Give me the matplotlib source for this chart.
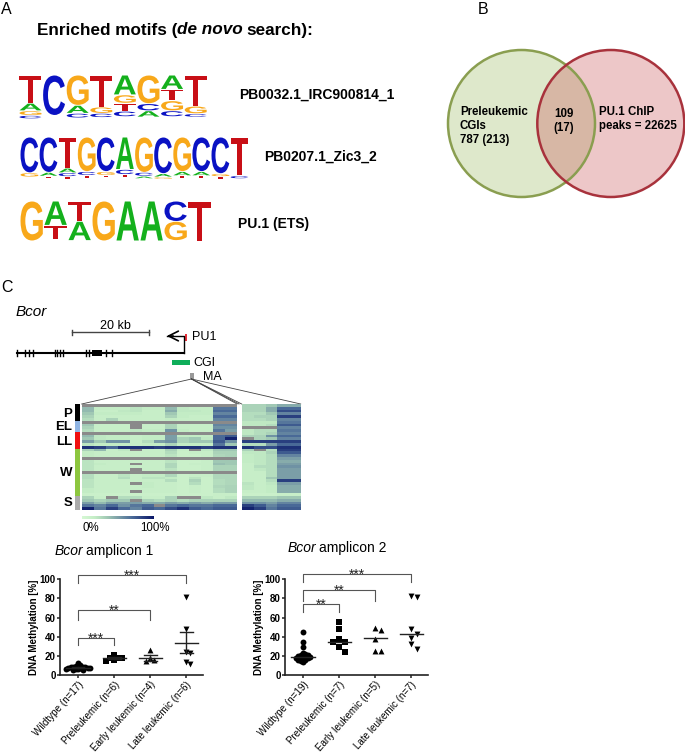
"""Redraw the Bcor figure: motif logos, Venn diagram, locus track, heatmap, dot plots."""

import matplotlib

matplotlib.use("Agg")

import matplotlib.pyplot as plt
import numpy as np
from matplotlib.font_manager import FontProperties
from matplotlib.patches import Circle, PathPatch, Rectangle
from matplotlib.textpath import TextPath
from matplotlib.transforms import Affine2D

plt.rcParams["font.family"] = ["Liberation Sans", "DejaVu Sans"]

WIDTH, HEIGHT = 685, 752
NA = np.nan

# Motif logos: each column is (letter, share of stack height), top to bottom.
MOTIF_IRC = [
    [("T", .65), ("A", .16), ("G", .09), ("C", .06)],
    [("C", .94)],
    [("G", .70), ("A", .17), ("C", .09)],
    [("T", .74), ("G", .13), ("C", .08)],
    [("A", .45), ("G", .18), ("T", .17), ("C", .11)],
    [("G", .66), ("C", .15), ("A", .13)],
    [("A", .32), ("T", .25), ("G", .22), ("C", .12)],
    [("T", .72), ("G", .16), ("C", .06)],
]
MOTIF_ZIC = [
    [("C", .83), ("G", .08)],
    [("C", .82), ("A", .07), ("T", .04)],
    [("T", .72), ("A", .09), ("C", .07), ("T", .04)],
    [("G", .80), ("C", .07), ("T", .05)],
    [("C", .80), ("G", .07), ("T", .04)],
    [("A", .75), ("C", .10), ("T", .05)],
    [("G", .82), ("C", .07), ("A", .04)],
    [("C", .85), ("A", .06), ("G", .03)],
    [("G", .80), ("A", .08), ("T", .04)],
    [("C", .80), ("A", .08), ("T", .04)],
    [("C", .85), ("G", .05), ("T", .04)],
    [("T", .90), ("C", .05)],
]
MOTIF_PU1 = [
    [("G", 1.0)],
    [("A", .60), ("T", .35)],
    [("T", .50), ("A", .47)],
    [("G", 1.0)],
    [("A", 1.0)],
    [("A", 1.0)],
    [("C", .50), ("G", .47)],
    [("T", 1.0)],
]
BASE_COLORS = {"A": "#14b01c", "C": "#0a12c3", "G": "#f8a81a", "T": "#c80f16"}

# Locus track, positions of exons along the gene.
EXON_TICKS = [17, 25, 29, 33, 55, 57, 60, 63, 86, 89, 106, 112]
EXON_BLOCK = [92.5, 102.5]

# Heatmap, % methylation per sample: 13 CpGs of amplicon 1, then 5 of amplicon 2.
HEAT_P = [
    [NA, NA, NA, NA, NA, NA, NA, NA, NA, NA, NA, NA, NA, 30, 30, 35, 45, 45],
    [40, 18, 18, 18, 22, 18, 18, 40, 20, 18, 18, 65, 65, 30, 30, 45, 70, 70],
    [40, 15, 15, 20, 22, 15, 15, 45, 20, 20, 18, 70, 70, 30, 30, 45, 80, 80],
    [35, 18, 18, 18, 18, 15, 15, 35, 18, 18, 18, 60, 60, 25, 25, 35, 60, 60],
    [30, 15, 15, 15, 15, 15, 15, 30, 18, 15, 15, 70, 70, 25, 30, 30, 85, 85],
    [25, 15, 30, 15, 15, 15, 15, 18, 15, 15, 15, 60, 60, 25, 25, 30, 60, 60],
]
HEAT_EL = [
    [NA, NA, NA, NA, NA, NA, NA, NA, NA, NA, NA, NA, NA, 20, 20, 20, 65, 65],
    [35, 15, 15, 15, NA, 15, 15, 30, 15, 15, 15, 60, 60, 20, 20, 25, 75, 75],
    [30, 15, 15, 15, NA, 15, 15, 30, 15, 15, 15, 55, 55, NA, NA, NA, 60, 60],
    [25, 15, 15, 15, 20, 18, 18, 55, 18, 15, 15, 65, 50, 20, 25, 25, 65, 65],
]
HEAT_LL = [
    [NA, NA, NA, NA, NA, NA, NA, NA, NA, NA, NA, NA, NA, 20, 25, 30, 60, 60],
    [40, 20, 18, 18, 15, 18, 18, 50, 18, 18, 18, 70, 75, 30, 30, 55, 70, 70],
    [35, 20, 18, 18, 15, 18, 18, 50, 30, 35, 20, 70, 95, NA, 30, 35, 60, 60],
    [50, 35, 55, 55, 15, 25, 50, 55, 30, 35, 35, 75, 55, 85, 85, 85, 85, 85],
    [22, 18, 18, 18, 15, 18, 18, 30, 18, 18, 18, 65, 35, 25, 25, 50, 70, 70],
    [90, 85, 70, 90, 90, 90, 85, 90, 90, 90, 85, 90, 90, 90, 80, 80, 90, 90],
]
HEAT_W = [
    [30, 40, 15, 20, NA, 15, 15, 30, 15, NA, 20, 35, 35, 30, NA, 25, 85, 85],
    [18, 15, 15, 15, 15, 15, 15, 25, 12, 15, 15, 30, 30, 20, 20, 30, 75, 75],
    [18, 15, 15, 15, 15, 15, 15, 22, 12, 12, 15, 28, 30, 18, 20, 25, 60, 60],
    [NA, NA, NA, NA, NA, NA, NA, NA, NA, NA, NA, NA, NA, 18, 20, 25, 50, 50],
    [22, 15, 15, 15, 15, 15, 15, 22, 12, 12, 15, 35, 35, 18, 20, 25, 45, 45],
    [22, 18, 15, 15, NA, 15, 15, 28, 12, 15, 15, 38, 35, 15, 20, 25, 50, 50],
    [22, 15, 15, 15, 15, 15, 15, 28, 12, 12, 15, 30, 30, 15, 25, 25, 55, 55],
    [22, 15, 15, 15, NA, 15, 15, 22, 12, 12, 15, 30, 30, 15, 20, 25, 50, 50],
    [NA, NA, NA, NA, NA, NA, NA, NA, NA, NA, NA, NA, NA, 15, 15, 25, 50, 50],
    [25, 15, 15, 22, 15, 18, 18, 28, 12, 15, 15, 28, 28, 15, 15, 25, 50, 50],
    [25, 15, 15, 25, 15, 22, 22, 18, 12, 22, 12, 28, 28, 15, 15, 35, 50, 50],
    [22, 15, 15, 15, 15, 15, 15, 25, 12, 30, 12, 25, 28, 15, 15, 25, 85, 85],
    [22, 15, 15, 15, NA, 18, 15, 15, 12, 25, 12, 25, 28, 22, 15, 20, 50, 50],
    [22, 15, 15, 15, 15, 18, 15, 15, 12, 15, 12, 28, 30, 20, 15, 18, 45, 45],
    [18, 15, 15, 15, 15, 15, 15, 15, 12, 15, 12, 25, 30, 20, 15, 18, 45, 45],
    [18, 15, 15, 15, NA, 15, 15, 15, 12, 15, 12, 25, 30, 15, 15, 18, 45, 45],
    [12, 12, 12, 12, 12, 12, 12, 12, 12, 12, 12, 15, 15, 12, 12, 12, 15, 15],
]
HEAT_S = [
    [30, 15, NA, 25, 25, 15, 15, 30, NA, NA, 20, 15, 20, 30, 30, 30, 35, 35],
    [35, 30, 35, 35, NA, 30, 25, 30, 25, 30, 30, 30, 30, 40, 40, 40, 45, 45],
    [50, 40, 50, 50, 50, 45, 45, 50, 45, 50, 45, 50, 50, 55, 55, 50, 60, 60],
    [65, 60, 70, 55, 65, 70, NA, 65, 70, 65, 65, 70, 70, 85, 75, 60, 70, 70],
    [95, 65, 85, 70, 60, 75, 70, 80, 90, 75, 70, 75, 75, 95, 85, 65, 75, 75],
]
HEAT_GROUPS = ["P", "EL", "LL", "W", "S"]
GROUP_COLORS = ["black", "#8fb4e3", "#f01010", "#8dc63f", "#aaaaaa"]
GROUP_LABEL_Y = [414, 427, 442, 473, 503]

# Dot plots.
GROUP_NAMES = ["Wildtype", "Preleukemic", "Early leukemic", "Late leukemic"]
GROUP_MARKERS = ["o", "s", "^", "v"]

AMP1_COUNTS = [17, 6, 4, 6]
AMP1_VALUES = [
    [5, 5.5, 6, 6, 6.5, 7, 7, 7.5, 7.5, 8, 8, 8.5, 8.5, 9, 9.5, 10.5, 12.5],
    [15, 16, 17.5, 18, 18, 20.5],
    [15, 16, 18, 26],
    [81, 48, 24, 23, 14, 11],
]
AMP1_CENTER = [7.5, 17.5, 18, 33.5]
AMP1_SEM = [0.5, 1.0, 3, 11]
AMP1_BRACKETS = [(0, 3, 104, 96, "***"), (0, 2, 67.6, 57.5, "**"), (0, 1, 38.3, 31.3, "***")]

AMP2_COUNTS = [19, 7, 5, 7]
AMP2_VALUES = [
    [45, 35, 29, 23, 22, 21, 21, 20, 20, 19, 19, 18, 18, 18, 17, 16, 16, 15, 14],
    [55, 48, 38, 34, 34, 29, 24],
    [49, 47, 38, 25, 25],
    [83, 81, 48, 43, 39, 32, 27],
]
AMP2_CENTER = [19, 34, 38.5, 43]
AMP2_BRACKETS = [(0, 3, 105.5, 97.5, "***"), (0, 2, 88.8, 77, "**"), (0, 1, 73.9, 66, "**")]


def px_axes(fig, x0, y0, x1, y1, **kwargs):
    """Add axes given in picture pixels, y measured from the top."""
    return fig.add_axes(
        [x0 / WIDTH, 1 - y1 / HEIGHT, (x1 - x0) / WIDTH, (y1 - y0) / HEIGHT], **kwargs
    )


def text_runs(ax, x, y, runs, size, weight="normal"):
    """Write consecutive pieces of text with their own font style."""
    renderer = ax.figure.canvas.get_renderer()
    for piece, style in runs:
        stripped = piece.rstrip()
        label = ax.text(x, y, stripped, fontsize=size, style=style, weight=weight, va="center")
        box = label.get_window_extent(renderer)
        x += box.width
        if piece != stripped:
            x += 0.2 * size * 100 / 72


def draw_logo(ax, motif, left, top, col_width, height):
    """Draw a sequence logo, scaling letter outlines into their boxes."""
    prop = FontProperties(family="Liberation Sans", weight="bold")
    for i, column in enumerate(motif):
        y = top
        for letter, share in column:
            path = TextPath((0, 0), letter, size=1, prop=prop)
            box = path.get_extents()
            h = share * height
            shape = Affine2D().translate(-box.x0, -box.y0).scale(
                col_width * 0.93 / box.width, -h / box.height
            ).translate(left + i * col_width, y + h)
            ax.add_patch(PathPatch(path.transformed(shape), fc=BASE_COLORS[letter], lw=0))
            y += h + 0.02 * height


def draw_venn(ax):
    ax.add_patch(Circle((521.5, 123.5), 73.5, fc="#9dbb61", alpha=0.33, lw=0))
    ax.add_patch(Circle((610.8, 123.5), 73.5, fc="#c9555a", alpha=0.33, lw=0))
    ax.add_patch(Circle((521.5, 123.5), 73.5, fc="none", ec="#8a9e50", lw=1.8))
    ax.add_patch(Circle((610.8, 123.5), 73.5, fc="none", ec="#a8323c", lw=1.8))
    style = dict(fontsize=8.3, weight="bold", va="center", linespacing=1.25)
    ax.text(460, 126, "Preleukemic\nCGIs\n787 (213)", **style)
    ax.text(564, 121, "109\n(17)", ha="center", **style)
    ax.text(599, 119, "PU.1 ChIP\npeaks = 22625", **style)


def draw_locus(ax):
    text_runs(ax, 16, 312, [("Bcor", "italic")], 11)
    ax.plot([72, 149], [332, 332], color="#444444", lw=1)
    for x in (72, 149):
        ax.plot([x, x], [329.5, 334.5], color="#444444", lw=1)
    ax.text(115.5, 326, "20 kb", fontsize=9, ha="center", va="center")

    ax.plot([17, 184], [353.3, 353.3], color="black", lw=1.5)
    for x in EXON_TICKS:
        ax.plot([x, x], [350.3, 356.3], color="black", lw=1)
    ax.add_patch(Rectangle((EXON_BLOCK[0], 350.3), EXON_BLOCK[1] - EXON_BLOCK[0], 6, fc="black"))
    ax.plot([184, 184, 167], [353.3, 336, 336], color="black", lw=1)
    ax.annotate("", xy=(164, 336), xytext=(176, 336),
                arrowprops=dict(arrowstyle="->,head_width=0.35,head_length=0.7", lw=1.2, color="black"))
    ax.add_patch(Rectangle((185.3, 334), 1.8, 7, fc="#e8303a", lw=0))
    ax.text(192, 337, "PU1", fontsize=9, va="center")

    ax.add_patch(Rectangle((171.7, 360), 18.3, 5.3, fc="#0fae5a", lw=0))
    ax.text(193, 363, "CGI", fontsize=9, va="center")
    ax.add_patch(Rectangle((190, 373), 4, 6, fc="#999999", lw=0))
    ax.text(203, 377, "MA", fontsize=9, va="center")
    for x in (81.7, 237, 239, 241.7, 300.7):
        ax.plot([191.5, x], [379, 404], color="#444444", lw=0.6)


def draw_heatmap(fig, ax):
    matrix = np.array(HEAT_P + HEAT_EL + HEAT_LL + HEAT_W + HEAT_S, dtype=float)
    cmap = matplotlib.colors.LinearSegmentedColormap.from_list(
        "meth",
        [(0, "#d6f8d4"), (0.18, "#c4edc6"), (0.35, "#a0c8b4"), (0.5, "#7c9fa8"), (0.7, "#4a6a98"), (1, "#0a1668")],
    ).copy()
    cmap.set_bad("#8a8a8a")
    shown = np.ma.masked_invalid(matrix)

    left = px_axes(fig, 81.7, 404.3, 236, 510)
    left.imshow(shown[:, :13], cmap=cmap, vmin=0, vmax=100, aspect="auto", interpolation="nearest")
    right = px_axes(fig, 241.7, 404.3, 300.7, 510)
    right.imshow(shown[:, 13:], cmap=cmap, vmin=0, vmax=100, aspect="auto", interpolation="nearest")
    left.axis("off")
    right.axis("off")

    counts = [len(HEAT_P), len(HEAT_EL), len(HEAT_LL), len(HEAT_W), len(HEAT_S)]
    bars = px_axes(fig, 75.3, 404.3, 80.3, 510)
    bars.bar(0, counts, bottom=np.cumsum([0] + counts[:-1]), width=1, color=GROUP_COLORS)
    bars.set_xlim(-0.5, 0.5)
    bars.set_ylim(sum(counts), 0)
    bars.axis("off")
    for name, y in zip(HEAT_GROUPS, GROUP_LABEL_Y):
        ax.text(72, y, name, fontsize=9.5, weight="bold", ha="right", va="center")

    strip = px_axes(fig, 82, 516, 154, 519.5)
    strip.imshow(np.linspace(0, 100, 200)[None, :], cmap=cmap, aspect="auto")
    strip.axis("off")
    ax.text(83, 528, "0%", fontsize=8.3, va="center")
    ax.text(140, 528, "100%", fontsize=8.3, va="center")


def swarm(values, spacing, unit_px=36.0, value_px=0.957):
    """Beeswarm offsets, in category units, for one column of values."""
    placed = []
    offsets = np.zeros(len(values))
    for i in np.argsort(values)[::-1]:
        y = values[i] * value_px
        for step in range(40):
            dx = ((step + 1) // 2) * spacing * (1 if step % 2 else -1)
            if all((dx - px) ** 2 + (y - py) ** 2 >= spacing ** 2 for px, py in placed):
                break
        placed.append((dx, y))
        offsets[i] = dx / unit_px
    return offsets


def draw_dotplot(fig, x_axis, title_x, title_y, title, counts, values, centers, sems, brackets, spread):
    ax = px_axes(fig, x_axis, 579.3, x_axis + 143, 675)
    for i, column in enumerate(values):
        column = np.array(column, dtype=float)
        spacing = 2.4 if i == 0 else spread  # wildtype cloud is packed much tighter
        ax.scatter(i + swarm(column, spacing), column, marker=GROUP_MARKERS[i], s=18, color="black",
                   lw=0, clip_on=False, zorder=3)
        ax.plot([i - 0.32, i + 0.32], [centers[i], centers[i]], color="#222222", lw=1, zorder=4)
        if sems is not None:
            low, high = centers[i] - sems[i], centers[i] + sems[i]
            ax.plot([i, i], [low, high], color="#222222", lw=1, zorder=4)
            for y in (low, high):
                ax.plot([i - 0.18, i + 0.18], [y, y], color="#222222", lw=1, zorder=4)

    for start, stop, top, drop, stars in brackets:
        ax.plot([start, start, stop, stop], [drop, top, top, drop], color="#555555", lw=0.8, clip_on=False)
        ax.text((start + stop) / 2, top - 0.5, stars, fontsize=10, ha="center",
                va="center", color="#222222", clip_on=False)

    ax.set_xlim(-0.5, 3.47)
    ax.set_ylim(0, 100)
    ax.set_yticks([0, 20, 40, 60, 80, 100])
    ax.set_xticks(range(4))
    labels = [f"{name} (n={n})" for name, n in zip(GROUP_NAMES, counts)]
    ax.set_xticklabels(labels, rotation=48, ha="right", rotation_mode="anchor", fontsize=7.1, color="black")
    ax.set_ylabel("DNA Methylation [%]", fontsize=7, weight="bold", labelpad=0.5)
    ax.tick_params(length=2.2, width=1.1, pad=1, color="#222222")
    ax.tick_params(axis="y", labelsize=7)
    for tick in ax.get_yticklabels():
        tick.set_fontweight("bold")
    for side in ("top", "right"):
        ax.spines[side].set_visible(False)
    for side in ("left", "bottom"):
        ax.spines[side].set_linewidth(1.2)
        ax.spines[side].set_color("#222222")
    ax.patch.set_alpha(0)

    overlay = fig.axes[0]
    text_runs(overlay, title_x, title_y, [("Bcor ", "italic"), (title, "normal")], 10)


def build_figure():
    fig = plt.figure(figsize=(WIDTH / 100, HEIGHT / 100), dpi=100)
    ax = fig.add_axes([0, 0, 1, 1])
    ax.set_xlim(0, WIDTH)
    ax.set_ylim(HEIGHT, 0)
    ax.axis("off")

    for letter, x, y in (("A", 1, 10), ("B", 478, 9), ("C", 1, 288)):
        ax.text(x, y, letter, fontsize=11.5, va="center")

    text_runs(ax, 37, 30, [("Enriched motifs (", "normal"), ("de novo ", "italic"), ("search):", "normal")],
              12.3, weight="bold")
    draw_logo(ax, MOTIF_IRC, 19.5, 75.5, 23.6, 42)
    draw_logo(ax, MOTIF_ZIC, 20.5, 137.5, 19.1, 42)
    draw_logo(ax, MOTIF_PU1, 20.5, 201.5, 24, 39)
    label = dict(fontsize=10, weight="bold", va="center")
    ax.text(239, 95, "PB0032.1_IRC900814_1", **label)
    ax.text(264, 157, "PB0207.1_Zic3_2", **label)
    ax.text(238, 224, "PU.1 (ETS)", **label)

    draw_venn(ax)
    draw_locus(ax)
    draw_heatmap(fig, ax)
    draw_dotplot(fig, 60, 55, 551, "amplicon 1", AMP1_COUNTS, AMP1_VALUES, AMP1_CENTER, AMP1_SEM,
                 AMP1_BRACKETS, spread=4.2)
    draw_dotplot(fig, 285, 288, 548, "amplicon 2", AMP2_COUNTS, AMP2_VALUES, AMP2_CENTER, None,
                 AMP2_BRACKETS, spread=6.0)
    return fig


def main():
    fig = build_figure()
    fig.savefig("out.png", dpi=100)


if __name__ == "__main__":
    main()
